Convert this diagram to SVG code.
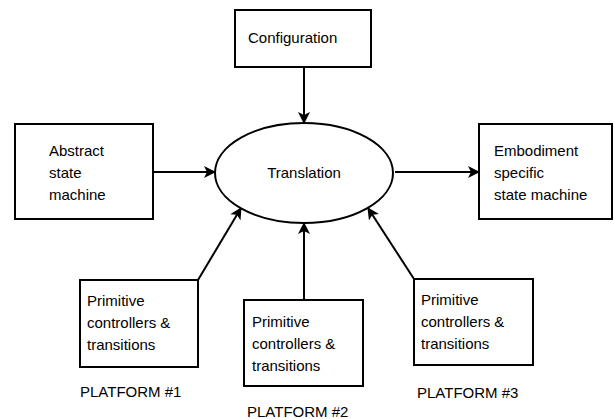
<svg xmlns="http://www.w3.org/2000/svg" width="614" height="419" viewBox="0 0 614 419">
<style>
.box{fill:#fff;stroke:#000;stroke-width:2}
.t{font-family:"Liberation Sans",Arial,sans-serif;font-size:15px;fill:#000}
.c{fill:none;stroke:#000;stroke-width:2}
</style>
<defs>
<marker id="ah" viewBox="0 0 12 12" refX="11" refY="6" markerWidth="12" markerHeight="12" markerUnits="userSpaceOnUse" orient="auto">
<path d="M0,0 L12,6 L0,12 L3,6 Z" fill="#000"/>
</marker>
</defs>
<rect width="614" height="419" fill="#fff"/>
<g id="connectors">
<line class="c" x1="304" y1="67" x2="304" y2="123" marker-end="url(#ah)"/>
<line class="c" x1="153" y1="172" x2="215" y2="172" marker-end="url(#ah)"/>
<line class="c" x1="395" y1="172" x2="479" y2="172" marker-end="url(#ah)"/>
<line class="c" x1="198" y1="280" x2="241" y2="208" marker-end="url(#ah)"/>
<line class="c" x1="304" y1="300" x2="304" y2="223" marker-end="url(#ah)"/>
<line class="c" x1="414" y1="279" x2="368" y2="208" marker-end="url(#ah)"/>
</g>
<g id="configuration">
<rect class="box" x="235" y="10" width="136" height="57"/>
<text class="t" x="248" y="43">Configuration</text>
</g>
<g id="abstract">
<rect class="box" x="15" y="124" width="138" height="95"/>
<text class="t" x="49" y="156">Abstract</text>
<text class="t" x="49" y="178">state</text>
<text class="t" x="49" y="200">machine</text>
</g>
<g id="translation">
<ellipse class="box" cx="304" cy="173" rx="89" ry="50"/>
<text class="t" x="304" y="178" text-anchor="middle">Translation</text>
</g>
<g id="embodiment">
<rect class="box" x="479" y="124" width="133" height="95"/>
<text class="t" x="494" y="156">Embodiment</text>
<text class="t" x="494" y="178">specific</text>
<text class="t" x="494" y="200">state machine</text>
</g>
<g id="platform1">
<rect class="box" x="80" y="280" width="118" height="87"/>
<text class="t" x="87" y="306">Primitive</text>
<text class="t" x="87" y="328">controllers &amp;</text>
<text class="t" x="87" y="350">transitions</text>
<text class="t" x="80" y="397">PLATFORM #1</text>
</g>
<g id="platform2">
<rect class="box" x="244" y="300" width="119" height="86"/>
<text class="t" x="252" y="327">Primitive</text>
<text class="t" x="252" y="349">controllers &amp;</text>
<text class="t" x="252" y="371">transitions</text>
<text class="t" x="247" y="417">PLATFORM #2</text>
</g>
<g id="platform3">
<rect class="box" x="414" y="279" width="119" height="86"/>
<text class="t" x="421" y="305">Primitive</text>
<text class="t" x="421" y="327">controllers &amp;</text>
<text class="t" x="421" y="349">transitions</text>
<text class="t" x="417" y="398">PLATFORM #3</text>
</g>
</svg>
